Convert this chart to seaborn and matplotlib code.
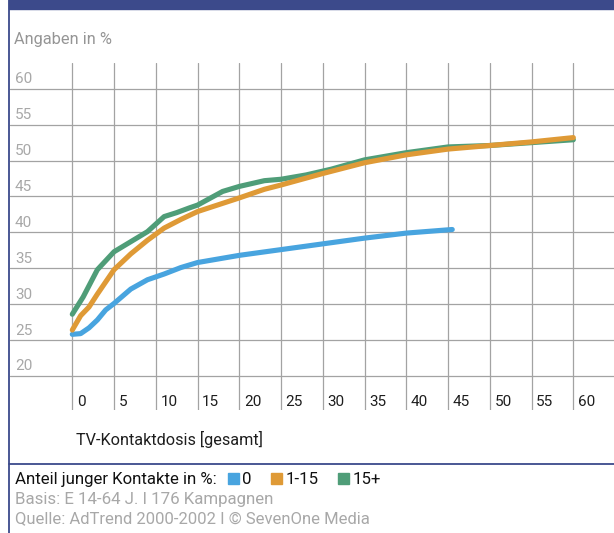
import numpy as np
import pandas as pd
import matplotlib
matplotlib.use("Agg")
import matplotlib.pyplot as plt
import matplotlib.transforms as mtransforms
from matplotlib.patches import Rectangle
from matplotlib.lines import Line2D
import seaborn as sns

# Reichweite (%) nach TV-Kontaktdosis, getrennt nach Anteil junger Kontakte
groups = ["0", "1-15", "15+"]

dosis_0 = [0, 1, 2, 3, 4, 5, 7, 9, 11, 13, 15, 20, 25, 30, 35, 40, 45.5]
anteil_0 = [25.8, 25.9, 26.7, 27.8, 29.2, 30.1, 32.1, 33.4, 34.2, 35.1, 35.8,
            36.8, 37.6, 38.4, 39.2, 39.9, 40.4]

dosis_1_15 = [0, 1, 2, 3, 5, 7, 9, 11, 13, 15, 20, 23, 25, 30, 35, 40, 45,
              50, 55, 60]
anteil_1_15 = [26.4, 28.4, 29.6, 31.4, 34.8, 37.0, 38.9, 40.6, 41.8, 42.9,
               44.8, 46.0, 46.6, 48.2, 49.7, 50.8, 51.6, 52.1, 52.6, 53.2]

dosis_15p = [0, 1.3, 3, 5, 7, 9, 11, 12.5, 14, 15, 18, 20, 23, 25, 28, 31,
             35, 40, 45, 50, 55, 60]
anteil_15p = [28.6, 31.0, 34.8, 37.3, 38.7, 40.1, 42.2, 42.75, 43.4, 43.8,
              45.7, 46.4, 47.2, 47.4, 48.0, 48.8, 50.1, 51.1, 51.9, 52.1,
              52.5, 52.9]

x_ticks = list(range(0, 61, 5))
y_ticks = list(range(20, 61, 5))

colors = {"0": "#48a4df", "1-15": "#df9a36", "15+": "#4f9d78"}
frame_blue = "#3c4a8b"

df = pd.concat([
    pd.DataFrame({"dosis": dosis_0, "anteil": anteil_0, "gruppe": "0"}),
    pd.DataFrame({"dosis": dosis_1_15, "anteil": anteil_1_15, "gruppe": "1-15"}),
    pd.DataFrame({"dosis": dosis_15p, "anteil": anteil_15p, "gruppe": "15+"}),
], ignore_index=True)

sns.set_theme(style="white")
plt.rcParams["font.family"] = ["Roboto", "DejaVu Sans"]

W, H = 614, 533
fig = plt.figure(figsize=(W / 100, H / 100), dpi=100)
fig.patch.set_facecolor("white")


def fx(px):
    return px / W


def fy(py):
    return 1 - py / H


# plot area in pixels: left 10, right 614, top 63, bottom 410
ax = fig.add_axes([fx(10), fy(410), fx(604), 347 / H])
ax.set_facecolor("white")

sns.lineplot(data=df, x="dosis", y="anteil", hue="gruppe",
             hue_order=["0", "15+", "1-15"], palette=colors,
             sort=False, estimator=None, linewidth=3.7, legend=False, ax=ax,
             solid_capstyle="round", zorder=5)

ax.set_xlim(-7.46, 64.87)
ax.set_ylim(15.26, 63.59)
ax.set_xticks(x_ticks)
ax.set_yticks(y_ticks)
ax.tick_params(length=0, labelbottom=False, labelleft=False)
ax.grid(True, color="#a3a3a3", linewidth=0.9)
ax.set_axisbelow(True)
for s in ax.spines.values():
    s.set_visible(False)
ax.set_xlabel("")
ax.set_ylabel("")

# value labels sitting inside the grid
ytrans = mtransforms.blended_transform_factory(ax.transAxes, ax.transData)
ytrans = mtransforms.offset_copy(ytrans, fig=fig, x=0, y=2.5, units="dots")
for v in y_ticks:
    ax.text(5 / 604, v, str(v), transform=ytrans, ha="left", va="bottom",
            fontsize=11, color="#a8a8a8")

xtrans = mtransforms.blended_transform_factory(ax.transData, ax.transAxes)
xtrans = mtransforms.offset_copy(xtrans, fig=fig, x=4.5, y=1.5, units="dots")
for v in x_ticks:
    ax.text(v, 0, str(v), transform=xtrans, ha="left", va="bottom",
            fontsize=11, color="#1e1e1e")

# frame: top band, left rule, separator above the legend
fig.patches.append(Rectangle((fx(9), fy(8.6)), 1, 8.6 / H,
                             transform=fig.transFigure, color=frame_blue,
                             zorder=10))
fig.lines.append(Line2D([fx(9), fx(9)], [0, 1], transform=fig.transFigure,
                        color=frame_blue, linewidth=1.3, zorder=10))
fig.lines.append(Line2D([fx(9), 1], [fy(464.3), fy(464.3)],
                        transform=fig.transFigure, color=frame_blue,
                        linewidth=1.3, zorder=10))

fig.text(fx(14.5), fy(44), "Angaben in %", ha="left", va="baseline",
         fontsize=11.8, color="#959595")
fig.text(fx(76), fy(445), "TV-Kontaktdosis [gesamt]", ha="left",
         va="baseline", fontsize=11.7, color="#1e1e1e")

# legend row
fig.canvas.draw()
renderer = fig.canvas.get_renderer()
lead = fig.text(fx(15), fy(484), "Anteil junger Kontakte in %:", ha="left",
                va="baseline", fontsize=12.1, color="#111111")
x_cur = lead.get_window_extent(renderer).x1 + 11
for g in groups:
    fig.patches.append(Rectangle((x_cur / W, fy(484)), 11 / W, 11 / H,
                                 transform=fig.transFigure, color=colors[g]))
    t = fig.text((x_cur + 14) / W, fy(484), g, ha="left", va="baseline",
                 fontsize=12.1, color="#111111")
    x_cur = t.get_window_extent(renderer).x1 + 20

fig.text(fx(15), fy(504), "Basis: E 14-64 J. I 176 Kampagnen", ha="left",
         va="baseline", fontsize=12.2, color="#a8a8a8")
fig.text(fx(15), fy(523), "Quelle: AdTrend 2000-2002 I \u00a9 SevenOne Media",
         ha="left", va="baseline", fontsize=12.0, color="#a8a8a8")

fig.savefig("out.png", dpi=100, facecolor="white")
